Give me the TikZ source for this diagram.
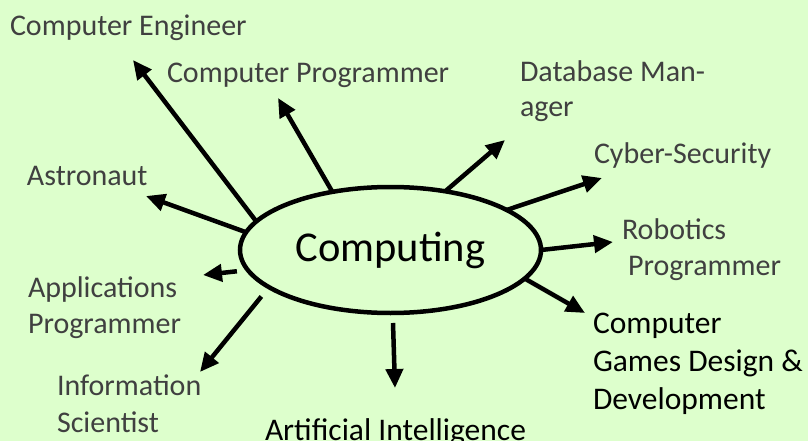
\documentclass[tikz,border=0pt]{standalone}
\usepackage{fontspec}
\setmainfont{Carlito}
\usetikzlibrary{arrows.meta,shapes.geometric}
\definecolor{bg}{RGB}{221,255,204}
\definecolor{txtgray}{RGB}{64,64,64}
\tikzset{
  lbl/.style={anchor=base west,inner sep=0,outer sep=0,align=left,text=txtgray,
    font=\fontsize{30}{35.5}\selectfont},
  lblb/.style={anchor=base west,inner sep=0,outer sep=0,align=left,text=black,
    font=\fontsize{31.5}{38}\selectfont},
  arr/.style={line width=4.5pt,-{Triangle[length=19pt,width=17pt]}},
  hub/.style={ellipse,draw,line width=4.5pt,inner sep=0,outer sep=0,
    minimum width=301pt,minimum height=126pt,font=\fontsize{42.5}{48}\selectfont}
}
\begin{document}
\begin{tikzpicture}[x=1pt,y=-1pt]
\fill[bg] (0,0) rectangle (808,441);
\useasboundingbox (0,0) rectangle (808,441);
\node[hub] (comp) at (390.5,250) {\raisebox{3pt}{Computing}};
\node[lbl] (eng) at (10,36) {Computer Engineer};
\node[lbl] (prog) at (167,83) {Computer Programmer};
\node[lbl] (astro) at (27,185) {Astronaut};
\node[lbl] (db) at (520,117) {Database Man-\\ager};
\node[lbl] (cyber) at (594,163) {Cyber-Security};
\node[lbl] (robot) at (622,275) {Robotics\\\hspace*{6pt}Programmer};
\node[lbl] (apps) at (28,333) {Applications\\Programmer};
\node[lbl,font=\fontsize{30}{37}\selectfont] (info) at (57,432) {Information\\Scientist};
\node[lblb] (ai) at (265,440) {Artificial Intelligence};
\node[lblb] (games) at (593,409) {Computer\\Games Design \&\\Development};
\coordinate (hEng) at (133,60);
\coordinate (hProg) at (278,98);
\coordinate (hAstro) at (146,196);
\coordinate (hApps) at (203,275);
\coordinate (hInfo) at (200,372);
\coordinate (hAi) at (395,388);
\coordinate (hGames) at (585,313);
\coordinate (hRobot) at (613,242);
\coordinate (hCyber) at (602,178);
\coordinate (hDb) at (505,140);
\draw[arr] (comp.168.5) -- (hEng);
\draw[arr] (comp.135.2) -- (hProg);
\draw[arr] (comp.173.5) -- (hAstro);
\draw[arr,shorten <=11pt] (comp.188.4) -- (hApps);
\draw[arr,shorten <=12pt] (comp.197.4) -- (hInfo);
\draw[arr,shorten <=10pt] (comp.-88.6) -- (hAi);
\draw[arr] (comp.-12.4) -- (hGames);
\draw[arr] (comp.0.8) -- (hRobot);
\draw[arr] (comp.19.2) -- (hCyber);
\draw[arr] (comp.47.6) -- (hDb);
\end{tikzpicture}
\end{document}
